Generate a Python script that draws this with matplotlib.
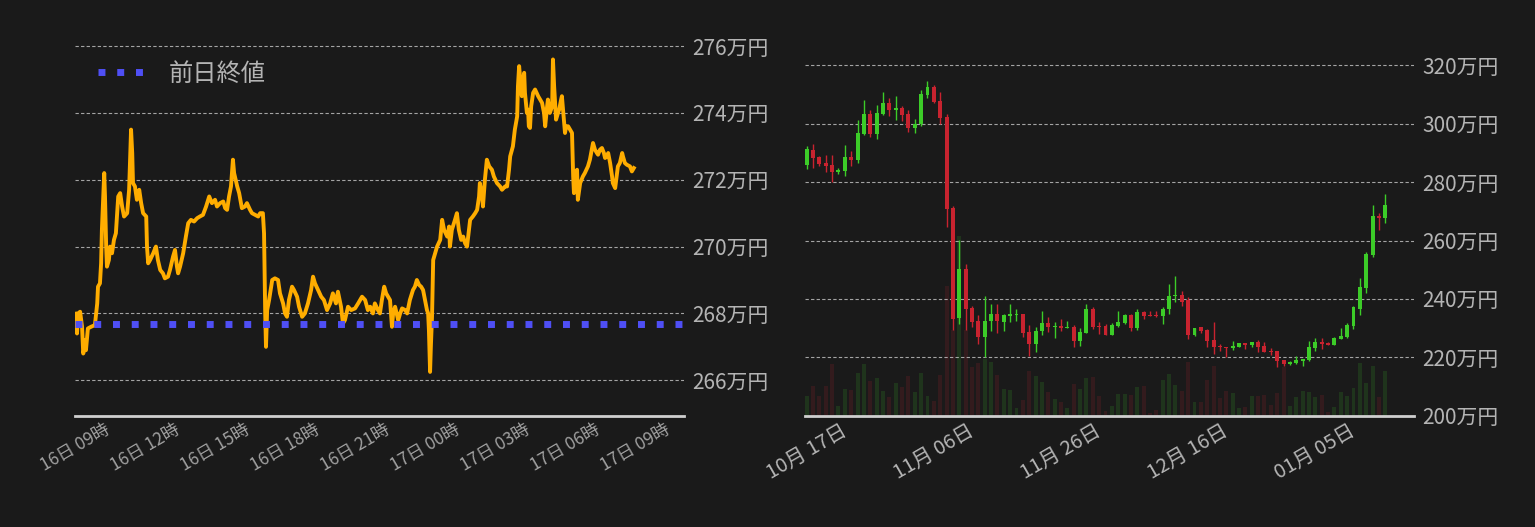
import matplotlib.pyplot as plt
import matplotlib.dates as mdates
import pandas as pd

plt.rcParams['font.family'] = ['Noto Sans CJK JP', 'DejaVu Sans']

BG = '#1a1a1a'
TEXT = '#b4b4b4'
GRID = '#c8c8c8'
UP = '#3ccc28'
DOWN = '#c8232f'

# ---- intraday price (minutes after 2023-01-16 09:00, price in 万円)
intraday_min = [0, 3, 5, 8, 13, 18, 21, 23, 26, 28, 33, 41, 51, 57, 59, 64, 67, 69, 75, 77,
                80, 82, 87, 90, 95, 100, 105, 111, 116, 121, 126, 134, 139, 144, 147, 149, 154, 159, 165, 170,
                175, 183, 185, 188, 193, 201, 208, 213, 219, 226, 231, 239, 244, 252, 257, 262, 265, 270, 278, 285,
                291, 298, 306, 314, 321, 329, 337, 345, 352, 360, 365, 373, 381, 386, 391, 396, 401, 406, 409, 411,
                417, 422, 429, 437, 442, 450, 455, 463, 471, 476, 483, 486, 489, 491, 494, 499, 507, 514, 522, 527,
                535, 540, 545, 550, 558, 563, 571, 576, 584, 591, 599, 607, 612, 617, 625, 633, 640, 648, 656, 663,
                671, 676, 684, 689, 694, 702, 710, 720, 728, 738, 746, 753, 759, 766, 771, 779, 784, 789, 795, 800,
                805, 810, 815, 818, 823, 831, 836, 841, 849, 854, 861, 869, 874, 879, 885, 890, 895, 900, 905, 908,
                910, 913, 915, 918, 921, 926, 931, 939, 944, 949, 957, 962, 964, 969, 977, 982, 987, 993, 998, 1003,
                1008, 1013, 1016, 1023, 1029, 1034, 1039, 1041, 1047, 1049, 1054, 1059, 1065, 1072, 1077, 1085, 1093, 1098, 1106, 1111,
                1116, 1119, 1126, 1131, 1137, 1139, 1142, 1147, 1149, 1152, 1155, 1157, 1162, 1165, 1167, 1170, 1173, 1178, 1183, 1191,
                1196, 1201, 1206, 1209, 1214, 1216, 1221, 1227, 1229, 1232, 1237, 1242, 1245, 1250, 1252, 1255, 1260, 1263, 1268, 1273,
                1278, 1281, 1283, 1286, 1291, 1293, 1299, 1306, 1311, 1319, 1324, 1332, 1337, 1342, 1345, 1350, 1355, 1360, 1363, 1368,
                1371, 1376, 1381, 1383, 1389, 1394, 1396, 1401, 1407, 1409, 1414, 1419, 1427, 1432, 1437]
intraday_price = [267.75, 268.0, 267.4, 268.0, 268.05, 267.6, 266.8, 266.9, 267.2, 266.9, 267.55, 267.6, 267.65, 268.3, 268.8, 268.9, 269.5, 270.5, 272.2, 271.5,
                  270.0, 269.4, 269.6, 270.0, 269.8, 270.2, 270.4, 271.5, 271.6, 271.2, 270.9, 271.0, 271.7, 273.5, 272.8, 271.9, 271.8, 271.4, 271.7, 271.3,
                  271.0, 270.9, 270.0, 269.5, 269.6, 269.8, 270.0, 269.6, 269.3, 269.2, 269.05, 269.1, 269.3, 269.7, 269.9, 269.4, 269.2, 269.4, 269.8, 270.3,
                  270.7, 270.8, 270.75, 270.85, 270.9, 270.95, 271.2, 271.5, 271.3, 271.4, 271.2, 271.3, 271.35, 271.15, 271.1, 271.5, 271.8, 272.6, 272.2, 272.1,
                  271.8, 271.6, 271.15, 271.2, 271.3, 271.1, 271.0, 270.95, 270.9, 271.0, 271.0, 270.4, 268.0, 267.0, 268.1, 268.4, 269.0, 269.05, 269.0, 268.6,
                  268.3, 268.0, 267.9, 268.4, 268.8, 268.7, 268.5, 268.2, 267.9, 268.0, 268.3, 268.7, 269.1, 268.9, 268.7, 268.5, 268.4, 268.1, 268.3, 268.6,
                  268.3, 268.65, 268.2, 267.7, 267.8, 268.2, 268.1, 268.15, 268.3, 268.5, 268.4, 268.1, 268.2, 268.0, 268.3, 268.1, 268.0, 268.4, 268.8, 268.6,
                  268.5, 268.4, 267.6, 268.0, 268.2, 267.8, 268.0, 268.15, 268.1, 268.0, 268.4, 268.7, 268.8, 269.0, 268.85, 268.8, 268.7, 268.4, 268.1, 268.0,
                  267.5, 266.25, 267.0, 267.9, 269.6, 269.8, 270.0, 270.2, 270.8, 270.5, 270.3, 270.6, 270.0, 270.5, 270.8, 271.0, 270.5, 270.2, 270.3, 270.1,
                  270.0, 270.5, 270.8, 270.9, 271.0, 271.1, 271.5, 271.9, 271.5, 271.2, 272.0, 272.6, 272.4, 272.3, 272.1, 271.9, 271.8, 271.7, 271.8, 271.8,
                  272.3, 272.7, 273.0, 273.5, 273.9, 274.8, 275.4, 274.7, 274.5, 275.0, 275.2, 274.6, 274.0, 274.1, 273.6, 273.55, 274.2, 274.6, 274.7, 274.5,
                  274.4, 274.3, 274.0, 273.6, 274.2, 274.4, 274.0, 274.2, 275.6, 274.8, 273.8, 274.0, 274.1, 274.4, 274.5, 274.1, 273.4, 273.6, 273.6, 273.5,
                  273.4, 272.1, 271.6, 272.2, 272.3, 271.4, 271.9, 272.1, 272.2, 272.4, 272.6, 273.1, 272.9, 272.8, 272.75, 272.9, 272.95, 272.8, 272.65, 272.7,
                  272.8, 272.5, 272.1, 271.9, 271.75, 272.2, 272.4, 272.5, 272.8, 272.7, 272.5, 272.45, 272.4, 272.25, 272.35]
prev_close = 267.675

# ---- daily candles from 2022-10-17 (万円)
candle_open = [285.9, 291.0, 288.6, 286.55, 285.9, 283.6, 283.9, 288.6, 287.7, 296.6,
               303.3, 296.6, 303.3, 307.1, 304.7, 305.4, 303.3, 298.65, 299.8, 309.95,
               312.6, 307.8, 302.3, 271.1, 233.5, 250.25, 236.9, 232.4, 227.0, 232.4,
               234.7, 232.1, 234.1, 234.5, 234.7, 228.6, 224.6, 228.9, 231.6, 230.4,
               230.7, 230.1, 230.3, 225.65, 228.4, 236.4, 230.6, 230.6, 227.7, 230.6,
               231.6, 234.35, 229.9, 235.4, 234.35, 234.35, 234.0, 236.4, 240.9, 241.5,
               239.6, 227.7, 230.3, 229.3, 225.9, 223.7, 223.7, 223.3, 223.6, 224.9,
               224.2, 225.2, 223.8, 222.15, 222.15, 219.1, 217.85, 218.1, 218.8, 219.1,
               223.2, 225.2, 225.0, 224.2, 226.2, 226.9, 230.6, 236.7, 243.8, 255.0,
               268.25, 267.6]
candle_high = [292.4, 293.1, 289.0, 289.3, 289.3, 285.0, 292.7, 290.7, 301.3, 308.1,
               304.7, 306.4, 310.9, 308.8, 309.5, 306.1, 304.7, 301.5, 311.55, 314.6,
               313.3, 310.9, 303.3, 271.8, 260.2, 252.0, 237.6, 234.5, 241.0, 238.1,
               238.1, 234.7, 238.4, 236.4, 235.0, 231.0, 230.3, 236.0, 233.7, 232.0,
               233.0, 232.3, 231.0, 229.9, 238.4, 237.4, 232.0, 231.3, 231.6, 235.7,
               234.7, 235.0, 236.4, 236.0, 235.7, 236.0, 237.1, 245.2, 247.9, 242.8,
               240.6, 230.1, 230.3, 229.6, 232.0, 224.5, 223.7, 225.5, 224.9, 224.9,
               225.2, 225.9, 225.2, 223.2, 222.15, 219.1, 218.9, 220.45, 219.4, 225.5,
               226.55, 226.55, 225.2, 226.9, 229.9, 231.6, 237.7, 247.2, 256.05, 272.0,
               269.3, 276.0]
candle_low = [284.5, 285.0, 285.5, 283.6, 280.2, 282.9, 282.2, 285.6, 286.7, 296.1,
              295.6, 294.9, 303.0, 302.65, 301.3, 300.9, 297.2, 296.8, 299.3, 308.9,
              307.1, 299.9, 264.6, 229.4, 231.4, 229.4, 230.4, 224.6, 220.1, 229.0,
              228.2, 229.0, 232.1, 232.4, 227.0, 220.6, 221.9, 227.6, 228.6, 226.7,
              228.9, 229.9, 223.6, 224.0, 228.25, 229.6, 228.0, 227.6, 227.6, 230.3,
              231.3, 228.9, 229.3, 233.0, 234.1, 233.7, 231.3, 235.0, 238.8, 237.7,
              226.4, 227.2, 228.25, 223.5, 221.1, 222.15, 220.1, 222.5, 223.6, 222.8,
              223.6, 221.8, 221.8, 220.8, 216.7, 217.0, 217.4, 217.7, 217.0, 218.8,
              222.15, 222.8, 224.3, 224.2, 226.2, 226.55, 229.6, 234.35, 242.1, 254.35,
              263.5, 265.9]
candle_close = [291.35, 288.4, 286.3, 285.6, 283.6, 284.3, 288.6, 287.7, 296.8, 303.3,
                296.6, 303.7, 307.1, 304.8, 305.4, 303.0, 298.65, 299.8, 310.2, 312.6,
                307.4, 302.0, 270.8, 233.1, 250.25, 236.6, 232.1, 227.0, 232.4, 234.7,
                232.4, 234.35, 234.7, 234.7, 228.25, 224.6, 228.9, 231.6, 230.4, 230.7,
                229.9, 230.4, 225.65, 228.6, 236.4, 230.4, 230.4, 227.7, 231.0, 232.0,
                234.35, 230.05, 235.4, 234.0, 234.1, 234.1, 236.7, 241.1, 241.5, 239.1,
                227.8, 230.1, 228.9, 225.5, 223.5, 223.5, 223.3, 223.8, 224.9, 224.2,
                225.2, 223.5, 221.8, 221.8, 218.8, 217.7, 218.5, 219.1, 219.4, 223.5,
                225.2, 224.5, 224.3, 226.55, 227.2, 231.0, 237.1, 244.2, 255.4, 268.25,
                267.6, 272.3]
volume = [59, 89, 59, 89, 155, 29, 80, 77, 128, 155,
          104, 113, 74, 56, 98, 86, 119, 71, 128, 59,
          44, 122, 389, 257, 539, 257, 146, 158, 170, 162,
          123, 81, 78, 24, 48, 135, 120, 102, 72, 51,
          42, 24, 96, 81, 114, 117, 60, 15, 30, 66,
          66, 63, 87, 90, 9, 18, 108, 126, 93, 75,
          162, 42, 40, 106, 148, 52, 73, 67, 22, 25,
          58, 58, 61, 31, 67, 146, 28, 55, 73, 70,
          55, 61, 10, 25, 70, 58, 82, 157, 97, 148,
          55, 133]

intraday_t = pd.Timestamp('2023-01-16 09:00') + pd.to_timedelta(intraday_min, unit='min')
days = pd.date_range('2022-10-17', periods=len(candle_open), freq='D')

fig = plt.figure(figsize=(15.35, 5.27), dpi=100, facecolor=BG)
axL = fig.add_axes([0.0489, 0.2106, 0.3967, 0.7324])
axR = fig.add_axes([0.5244, 0.2112, 0.3967, 0.7091])
axV = axR.twinx()  # volume underneath the candles


def style(ax):
    ax.set_facecolor(BG)
    for s in ['top', 'left', 'right']:
        ax.spines[s].set_visible(False)
    ax.spines['bottom'].set_color('#cfcfcf')
    ax.spines['bottom'].set_linewidth(2)
    ax.yaxis.tick_right()
    ax.yaxis.set_label_position('right')
    ax.tick_params(axis='both', length=0, colors=TEXT)
    ax.tick_params(axis='y', pad=6, labelsize=15)
    ax.grid(axis='y', color=GRID, linestyle=(0, (3, 2)), linewidth=0.8, alpha=0.8)
    ax.grid(axis='x', visible=False)
    ax.yaxis.set_major_formatter(plt.FuncFormatter(lambda v, p: f'{v:.0f}万円'))


# ---- left: intraday line
style(axL)
axL.plot(intraday_t, intraday_price, color='#ffad00', linewidth=2.8, zorder=3)
axL.axhline(prev_close, color='#4f4ff5', linewidth=5, linestyle=(0, (1, 1.7)),
            zorder=4, label='前日終値')
axL.set_ylim(264.93, 276.48)
axL.set_yticks(range(266, 277, 2))
axL.set_xlim(pd.Timestamp('2023-01-16 09:00'), pd.Timestamp('2023-01-17 11:06'))
axL.xaxis.set_major_locator(mdates.HourLocator(byhour=[0, 3, 6, 9, 12, 15, 18, 21]))
axL.xaxis.set_major_formatter(mdates.DateFormatter('%d日 %H時'))
plt.setp(axL.get_xticklabels(), rotation=30, ha='center', fontsize=12.5, color='#a0a0a0')
axL.legend(loc='upper left', bbox_to_anchor=(0.022, 0.945), borderaxespad=0,
           frameon=False, fontsize=17.5, labelcolor=TEXT,
           handlelength=1.9, handletextpad=1.0)

# ---- right: daily candles + volume
style(axR)
axV.set_zorder(axR.get_zorder() - 1)
axR.patch.set_visible(False)
axV.set_facecolor(BG)
axV.axis('off')

x = mdates.date2num(days)
for xi, o, h, l, c, v in zip(x, candle_open, candle_high, candle_low, candle_close, volume):
    col = UP if c >= o else DOWN
    axR.vlines(xi, l, h, color=col, linewidth=1, zorder=3)
    axR.bar(xi, max(abs(c - o), 0.35), bottom=min(o, c), width=0.62, color=col,
            linewidth=0, zorder=4)
    axV.bar(xi, v, width=0.62, color=col, alpha=0.15, linewidth=0)

axV.set_ylim(0, 1120)
axR.set_ylim(200, 328)
axR.set_yticks(range(200, 321, 20))
axR.set_xlim(x[0] - 0.27, x[0] + 95.5)
axV.set_xlim(axR.get_xlim())
axR.set_xticks(x[[0, 20, 40, 60, 80]])
axR.xaxis.set_major_formatter(mdates.DateFormatter('%m月 %d日'))
plt.setp(axR.get_xticklabels(), rotation=30, ha='center', fontsize=14.5, color=TEXT)

fig.savefig('out.png', facecolor=BG)
